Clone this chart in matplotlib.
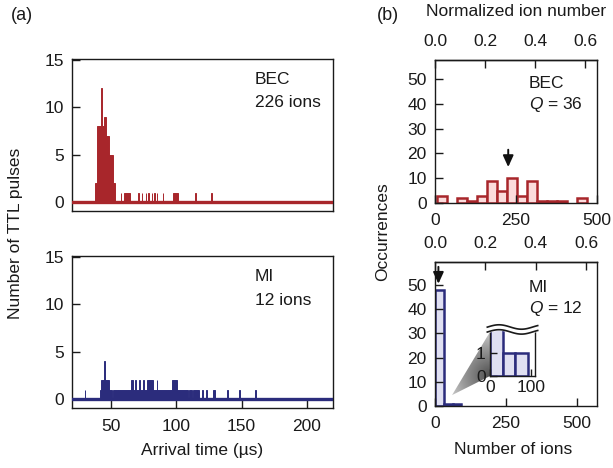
import numpy as np
import matplotlib
matplotlib.use('Agg')
import matplotlib.pyplot as plt
from matplotlib.patches import Polygon
from matplotlib.colors import LinearSegmentedColormap

plt.rcParams['font.family'] = ['Liberation Sans', 'DejaVu Sans']
plt.rcParams['font.size'] = 12.5
plt.rcParams['mathtext.fontset'] = 'custom'
plt.rcParams['mathtext.rm'] = 'Liberation Sans'
plt.rcParams['mathtext.it'] = 'Liberation Sans:italic'
plt.rcParams['axes.linewidth'] = 1.0
plt.rcParams['text.color'] = '#1a1a1a'
plt.rcParams['xtick.color'] = '#1a1a1a'
plt.rcParams['ytick.color'] = '#1a1a1a'

# ---------------- data ----------------
# (a) TTL pulse traces: segments of arrival time (us) with pulse counts
bec_start = [37.5, 38.8, 42.4, 43.0, 44.6, 46.1, 48.6, 51.2, 57.2, 60.0, 70.3, 73.3,
             76.4, 78.4, 81.0, 82.8, 84.9, 89.6, 97.4, 114.4, 126.7]
bec_end = [38.8, 42.4, 43.0, 44.6, 46.1, 48.6, 51.2, 53.0, 57.7, 64.1, 71.0, 73.8,
           76.9, 78.9, 81.5, 83.3, 85.4, 90.1, 101.3, 114.9, 127.2]
bec_count = [2, 8, 12, 8, 9, 7, 5, 2, 1, 1, 1, 1, 1, 1, 1, 1, 1, 1, 1, 1, 1]

mi_start = [29.7, 41.5, 42.5, 44.6, 45.4, 48.0, 51.5, 55.5, 65.5, 67.0, 68.3, 68.8, 71.0,
            72.3, 74.7, 75.2, 77.4, 82.0, 85.0, 85.5, 96.5, 100.5, 109.5, 112.5,
            119.5, 122.8, 127.8, 138.7, 148.3, 160.6]
mi_end = [30.3, 42.5, 44.6, 45.4, 48.0, 51.0, 55.0, 65.5, 67.0, 68.3, 68.8, 71.0, 72.3,
          74.7, 75.2, 77.4, 82.0, 85.0, 85.5, 96.5, 100.5, 109.0, 112.0, 117.0,
          120.0, 123.3, 129.4, 139.2, 148.8, 161.1]
mi_count = [1, 1, 2, 4, 2, 1, 1, 1, 2, 1, 2, 1, 2, 1, 2, 1, 2, 1, 2, 1, 2, 1, 1, 1,
            1, 1, 1, 1, 1, 1]

# (b) histograms of ion number
bec_edges = [5, 36, 67, 98, 129, 160, 191, 222, 253, 284, 315, 346, 377, 408, 439, 470]
bec_hist = [3, 0, 2, 1, 3, 9, 5, 10, 3, 9, 1, 1, 1, 0, 2]
mi_edges = [0, 31, 62, 93]
mi_hist = [48, 1, 1]
bec_mean, mi_mean = 226, 12
bec_norm, mi_norm = 772, 887   # ions corresponding to normalized 1.0

RED = '#a8262b'
RED_FILL = '#fbdcdc'
NAVY = '#2b2c7c'
NAVY_FILL = '#e0e0f2'
SPINE = '#1a1a1a'

W, H = 613, 468
fig = plt.figure(figsize=(W / 100, H / 100), dpi=100)


def rect(l, t, r, b):
    return [l / W, 1 - b / H, (r - l) / W, (b - t) / H]


def style(ax):
    for s in ax.spines.values():
        s.set_color(SPINE)
    ax.tick_params(direction='in', length=6, width=1.0, pad=6)


# ---------------- (a) traces ----------------
axa1 = fig.add_axes(rect(72, 59, 333, 211))
axa2 = fig.add_axes(rect(72, 256, 333, 408))
for ax, st, en, ct, c in [(axa1, bec_start, bec_end, bec_count, RED),
                          (axa2, mi_start, mi_end, mi_count, NAVY)]:
    st = np.array(st); en = np.array(en)
    ax.bar(st, ct, width=en - st, align='edge', color=c, edgecolor=c, linewidth=0.7)
    ax.axhline(0, color=c, lw=2.4, zorder=3)
    ax.set_xlim(20, 220)
    ax.set_ylim(-0.9, 15.1)
    ax.set_yticks([0, 5, 10, 15])
    style(ax)
axa1.set_xticks([])
axa2.set_xticks([50, 100, 150, 200])
axa2.tick_params(axis='x', pad=8)

axa1.text(0.70, 0.868, 'BEC', transform=axa1.transAxes, va='center', ha='left')
axa1.text(0.70, 0.717, '226 ions', transform=axa1.transAxes, va='center', ha='left')
axa2.text(0.70, 0.862, 'MI', transform=axa2.transAxes, va='center', ha='left')
axa2.text(0.70, 0.704, '12 ions', transform=axa2.transAxes, va='center', ha='left')

# ---------------- (b) histograms ----------------
axb1 = fig.add_axes(rect(435, 60, 597, 203))
axb2 = fig.add_axes(rect(435, 262, 597, 406))
for ax, edges, hist, fc, ec, norm, xmax, ymax in [
        (axb1, bec_edges, bec_hist, RED_FILL, RED, bec_norm, 500, 57.7),
        (axb2, mi_edges, mi_hist, NAVY_FILL, NAVY, mi_norm, 570, 59.5)]:
    edges = np.array(edges, dtype=float)
    hist = np.array(hist)
    m = hist > 0
    ax.bar(edges[:-1][m], hist[m], width=np.diff(edges)[m], align='edge',
           facecolor=fc, edgecolor=ec, linewidth=1.8)
    ax.set_xlim(0, xmax)
    ax.set_ylim(0, ymax)
    ax.set_yticks([0, 10, 20, 30, 40, 50])
    ax.set_xticks([0, 250, 500])
    style(ax)
    ax.tick_params(axis='x', pad=7)
    sec = ax.secondary_xaxis('top', functions=(lambda n, k=norm: n / k,
                                               lambda v, k=norm: v * k))
    sec.set_xticks([0.0, 0.2, 0.4, 0.6])
    sec.set_xticklabels(['0.0', '0.2', '0.4', '0.6'])
    sec.tick_params(direction='in', length=6, width=1.0, pad=8, colors=SPINE)
    sec.spines['top'].set_color(SPINE)

axb1.annotate('', xy=(bec_mean, 14.5), xytext=(bec_mean, 21.5),
              arrowprops=dict(arrowstyle='-|>,head_width=0.25,head_length=0.55',
                              color='#111111', lw=1.4, shrinkA=0, shrinkB=0))
axb2.annotate('', xy=(mi_mean, 50.5), xytext=(mi_mean, 57.5),
              arrowprops=dict(arrowstyle='-|>,head_width=0.25,head_length=0.55',
                              color='#111111', lw=1.4, shrinkA=0, shrinkB=0))

axb1.text(0.58, 0.839, 'BEC', transform=axb1.transAxes, va='center', ha='left')
axb1.text(0.58, 0.692, r'$Q$ = 36', transform=axb1.transAxes, va='center', ha='left')
axb2.text(0.58, 0.826, 'MI', transform=axb2.transAxes, va='center', ha='left')
axb2.text(0.58, 0.674, r'$Q$ = 12', transform=axb2.transAxes, va='center', ha='left')

# ---------------- gradient wedge (overlay in display pixels) ----------------
inset_rect = rect(490, 327, 535, 376)
ov = fig.add_axes([0, 0, 1, 1])
ov.set_xlim(0, fig.bbox.width)
ov.set_ylim(0, fig.bbox.height)
ov.axis('off')
tip = axb2.transData.transform((60, 4.5))
c_top = fig.transFigure.transform((inset_rect[0], inset_rect[1] + 0.9 * inset_rect[3]))
c_bot = fig.transFigure.transform((inset_rect[0], inset_rect[1]))
poly = Polygon([tip, c_top, c_bot], closed=True, facecolor='none', edgecolor='none')
ov.add_patch(poly)
xs = np.linspace(tip[0] - 2, c_bot[0] + 2, 80)
ys = np.linspace(tip[1] - 2, c_top[1] + 2, 120)
XX, YY = np.meshgrid(xs, ys)
dist = np.hypot(XX - c_bot[0], YY - c_bot[1])
grad = np.clip(dist / 55.0, 0, 1)
cmap = LinearSegmentedColormap.from_list('g', ['#505050', '#9a9a9a', '#ececec'])
im = ov.imshow(grad, extent=[xs[0], xs[-1], ys[0], ys[-1]], origin='lower',
               cmap=cmap, vmin=0, vmax=1, aspect='auto', interpolation='bilinear')
im.set_clip_path(poly)
ov.set_xlim(0, fig.bbox.width)
ov.set_ylim(0, fig.bbox.height)

# ---------------- inset ----------------
axin = fig.add_axes(inset_rect)
axin.bar(mi_edges[:-1], mi_hist, width=np.diff(mi_edges), align='edge',
         facecolor=NAVY_FILL, edgecolor=NAVY, linewidth=1.8)
axin.set_xlim(0, 110)
axin.set_ylim(0, 2.1)
axin.set_xticks([0, 100])
axin.set_yticks([0, 1])
style(axin)
axin.tick_params(length=5, pad=3)
axin.spines['top'].set_visible(False)
wx = np.linspace(-0.06, 1.06, 120)
wave = 0.045 * np.sin(2 * np.pi * (wx + 0.05))
axin.fill_between(wx, 0.9 + wave, 1.06, color='white', transform=axin.transAxes,
                  clip_on=False, zorder=5)
axin.plot(wx, 1.0 + wave, color=SPINE, lw=1.2, transform=axin.transAxes,
          clip_on=False, zorder=6)
axin.plot(wx, 0.9 + wave, color=SPINE, lw=1.2, transform=axin.transAxes,
          clip_on=False, zorder=6)

# ---------------- labels ----------------
fig.text(22 / W, 1 - 16 / H, '(a)', ha='center', va='center', fontsize=13)
fig.text(388 / W, 1 - 16 / H, '(b)', ha='center', va='center', fontsize=13)
fig.text(16 / W, 1 - 233 / H, 'Number of TTL pulses', rotation=90, ha='center', va='center')
fig.text(202 / W, 1 - 451 / H, 'Arrival time (µs)', ha='center', va='center')
fig.text(383 / W, 1 - 232 / H, 'Occurrences', rotation=90, ha='center', va='center')
fig.text(513 / W, 1 - 449 / H, 'Number of ions', ha='center', va='center')
fig.text(516 / W, 1 - 12 / H, 'Normalized ion number', ha='center', va='center')

fig.savefig('out.png', dpi=100)
